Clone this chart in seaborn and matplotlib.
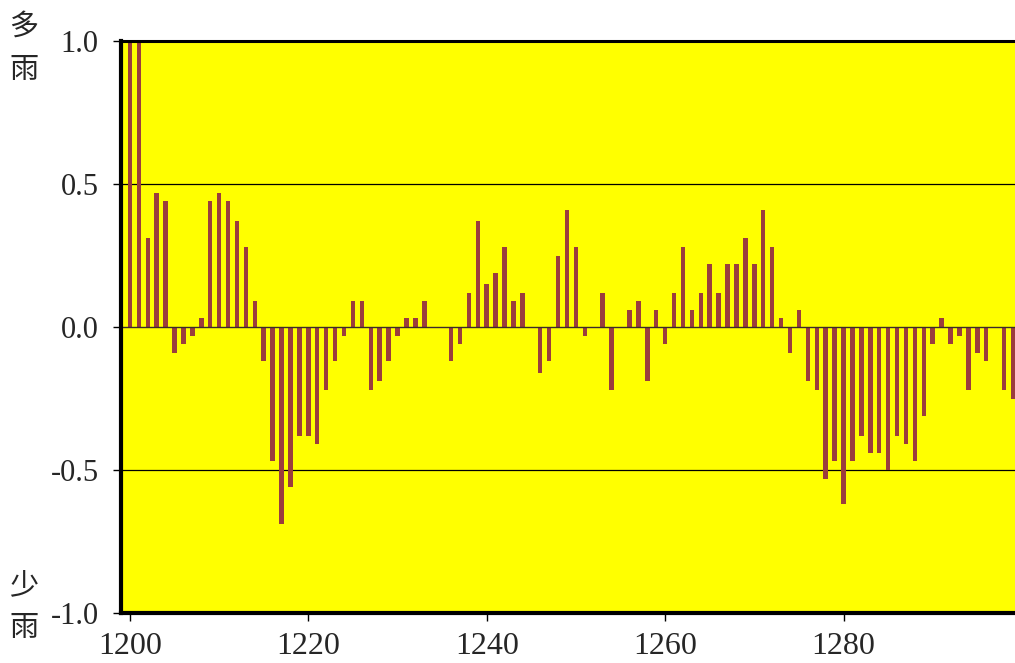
import pandas as pd
import seaborn as sns
import matplotlib.pyplot as plt

# rain index per year
years = list(range(1200, 1300))
rain_index = [
    1.00, 1.00, 0.31, 0.47, 0.44, -0.09, -0.06, -0.03, 0.03, 0.44,
    0.47, 0.44, 0.37, 0.28, 0.09, -0.12, -0.47, -0.69, -0.56, -0.38,
    -0.38, -0.41, -0.22, -0.12, -0.03, 0.09, 0.09, -0.22, -0.19, -0.12,
    -0.03, 0.03, 0.03, 0.09, 0.00, 0.00, -0.12, -0.06, 0.12, 0.37,
    0.15, 0.19, 0.28, 0.09, 0.12, 0.00, -0.16, -0.12, 0.25, 0.41,
    0.28, -0.03, 0.00, 0.12, -0.22, 0.00, 0.06, 0.09, -0.19, 0.06,
    -0.06, 0.12, 0.28, 0.06, 0.12, 0.22, 0.12, 0.22, 0.22, 0.31,
    0.22, 0.41, 0.28, 0.03, -0.09, 0.06, -0.19, -0.22, -0.53, -0.47,
    -0.62, -0.47, -0.38, -0.44, -0.44, -0.50, -0.38, -0.41, -0.47, -0.31,
    -0.06, 0.03, -0.06, -0.03, -0.22, -0.09, -0.12, 0.00, -0.22, -0.25,
]
x_ticks = [1200, 1220, 1240, 1260, 1280]
y_ticks = [-1.0, -0.5, 0.0, 0.5, 1.0]
y_tick_labels = ["-1.0", "-0.5", "0.0", "0.5", "1.0"]

df = pd.DataFrame({"year": years, "index": rain_index})

sns.set_style("ticks")
plt.rcParams["font.family"] = ["Liberation Serif", "DejaVu Serif"]

W, H = 1015, 663
fig = plt.figure(figsize=(W / 100, H / 100), dpi=100)
# axes runs a little past the right edge of the picture, like the original
ax_left, ax_right, ax_top, ax_bottom = 121, 1030, 41, 613
ax = fig.add_axes([ax_left / W, 1 - ax_bottom / H,
                   (ax_right - ax_left) / W, (ax_bottom - ax_top) / H])
ax.set_facecolor("#ffff00")

sns.barplot(data=df, x="year", y="index", native_scale=True, width=0.5,
            color="#9b3d3d", saturation=1, errorbar=None, ax=ax, zorder=2,
            linewidth=0, edgecolor="none")

px_per_year = 8.92
ax.set_xlim(1199, 1199 + (ax_right - ax_left) / px_per_year)
ax.set_ylim(-1.0, 1.0)

for yv in (0.5, -0.5):
    ax.axhline(yv, color="black", lw=0.9, zorder=1)
ax.axhline(0.0, color="#3a2a2a", lw=1.0, zorder=3)

ax.set_xticks(x_ticks)
ax.set_xticklabels([str(t) for t in x_ticks])
ax.set_yticks(y_ticks)
ax.set_yticklabels(y_tick_labels)
ax.tick_params(axis="both", direction="out", length=6, width=1,
               color="black", labelsize=22)
ax.tick_params(axis="y", pad=10)
ax.tick_params(axis="x", pad=8, labelsize=23)
ax.set_xlabel("")
ax.set_ylabel("")

for side in ("left", "bottom"):
    ax.spines[side].set_linewidth(3.0)
ax.spines["top"].set_visible(True)
ax.spines["top"].set_linewidth(2.2)
ax.spines["right"].set_visible(False)
for s in ax.spines.values():
    s.set_color("black")
    s.set_zorder(4)

cjk = ["Noto Sans CJK TC", "DejaVu Sans"]
for ch, ypx in (("多", 27), ("雨", 70), ("少", 585), ("雨", 628)):
    fig.text(24 / W, 1 - ypx / H, ch, ha="center", va="center",
             fontsize=21, family=cjk)

fig.savefig("out.png", dpi=100, facecolor="white")
